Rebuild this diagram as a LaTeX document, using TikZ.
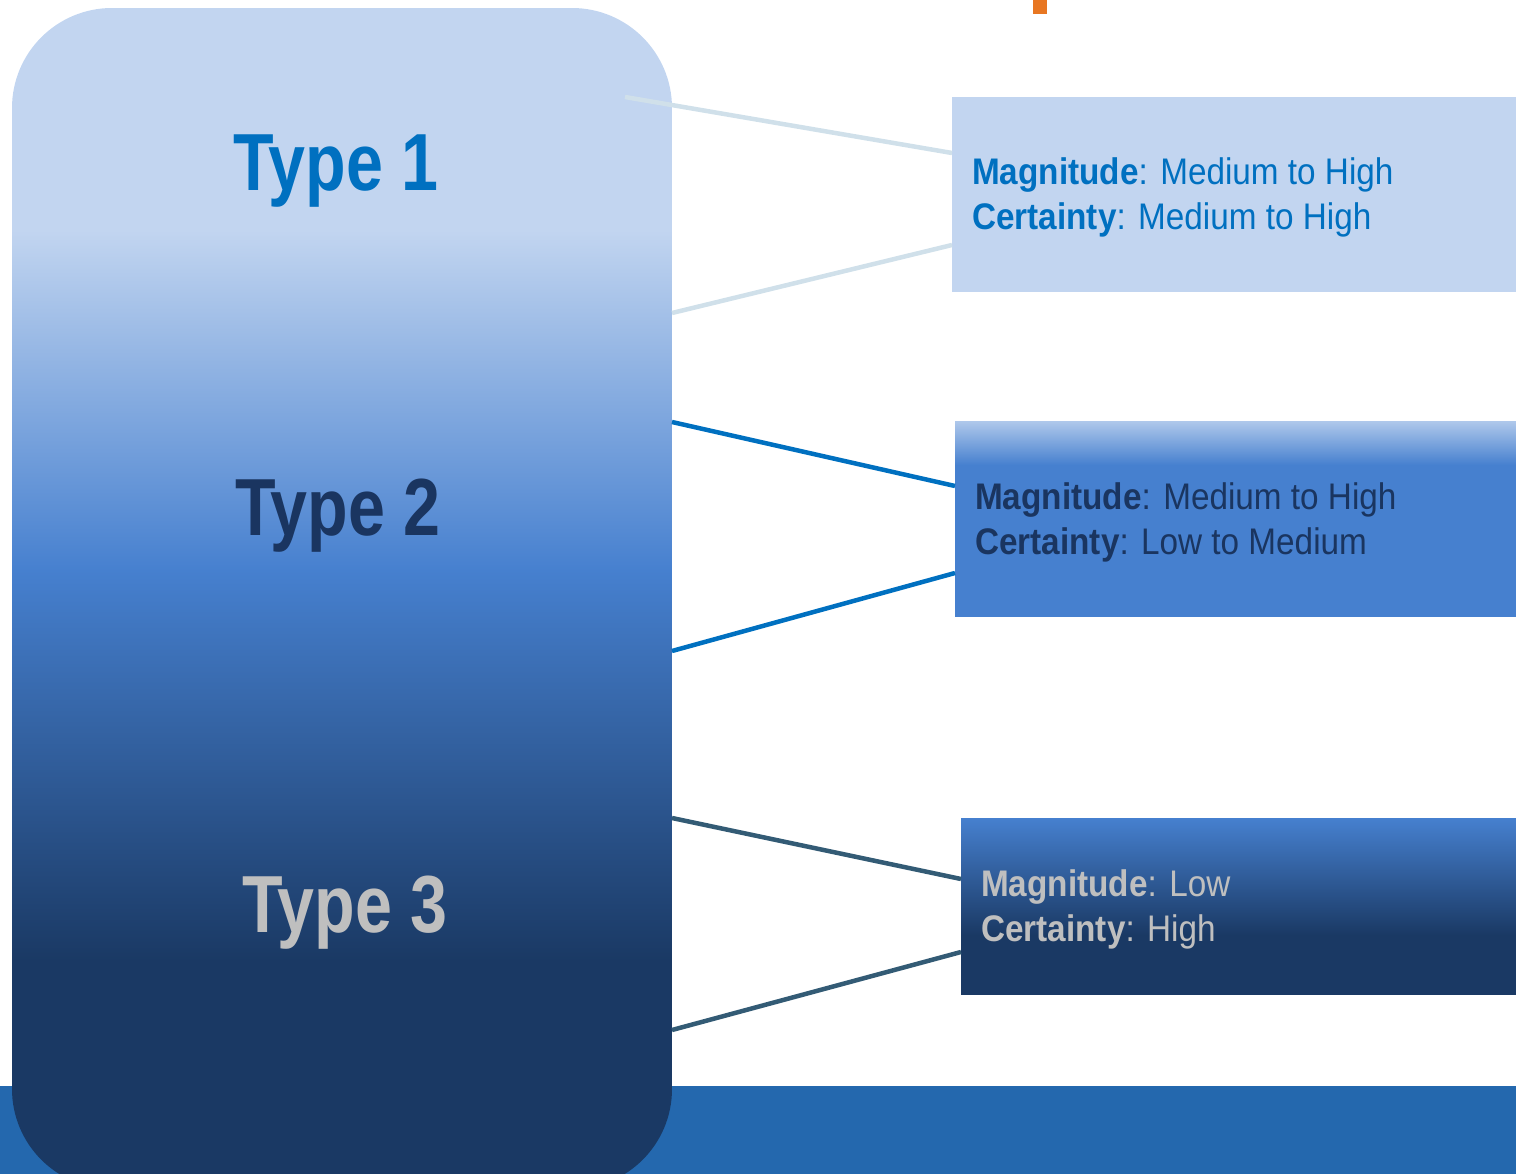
\documentclass[tikz,border=0pt]{standalone}
\usepackage{fontspec}
\setmainfont[FakeStretch=0.82]{Liberation Sans}
\newfontfamily\infofont[FakeStretch=0.9]{Liberation Sans}
\definecolor{paleblue}{HTML}{C2D5F0}
\definecolor{midblue}{HTML}{4680CF}
\definecolor{navy}{HTML}{1A3964}
\definecolor{bandblue}{HTML}{2468AE}
\definecolor{tabor}{HTML}{E87722}
\definecolor{linepale}{HTML}{D0E0EA}
\definecolor{linemid}{HTML}{0070C0}
\definecolor{linedark}{HTML}{335B75}
\definecolor{txtblue}{HTML}{0070C0}
\definecolor{txtnavy}{HTML}{1A3560}
\definecolor{txtgrey}{HTML}{BFBFBF}
\begin{document}
\begin{tikzpicture}[x=1pt,y=-1pt,
  typelabel/.style={font=\fontsize{81}{90}\selectfont\bfseries, inner sep=0pt},
  infobox/.style={rectangle, inner sep=0pt, anchor=north west},
  infotext/.style={anchor=west, align=left, inner sep=0pt, xshift=20pt, yshift=-3pt,
    font=\infofont\fontsize{37}{45}\selectfont},
  link/.style={line width=4.5pt}]
\useasboundingbox (0,0) rectangle (1516,1174);
\clip (0,0) rectangle (1516,1174);

% footer band and small orange tab
\fill[bandblue] (0,1086) rectangle (1516,1174);
\fill[tabor] (1033,0) rectangle (1047,14);

% tall rounded column with vertical colour ramp
\begin{scope}
  \clip[rounded corners=100pt] (12,8) rectangle (672,1189);
  \fill[paleblue] (12,8) rectangle (672,231);
  \shade[top color=paleblue, bottom color=midblue] (12,230) rectangle (672,571);
  \shade[top color=midblue, bottom color=navy] (12,570) rectangle (672,961);
  \fill[navy] (12,960) rectangle (672,1189);
\end{scope}

\node[typelabel, text=txtblue] (type1) at (336,171) {Type 1};
\node[typelabel, text=txtnavy] (type2) at (338,516) {Type 2};
\node[typelabel, text=txtgrey] (type3) at (345,913) {Type 3};

% attachment points on the column
\coordinate (c1a) at (625,97);
\coordinate (c1b) at (672,313);
\coordinate (c2a) at (672,422);
\coordinate (c2b) at (672,651);
\coordinate (c3a) at (672,818);
\coordinate (c3b) at (672,1030);

% description boxes
\node[infobox, fill=paleblue, minimum width=564pt, minimum height=195pt] (box1) at (952,97) {};
\node[infobox, fill=midblue, minimum width=561pt, minimum height=196pt] (box2) at (955,421) {};
\node[infobox, fill=navy, minimum width=555pt, minimum height=177pt] (box3) at (961,818) {};
\shade[top color=paleblue!85!midblue, bottom color=midblue]
  (box2.north west) rectangle ([yshift=-44pt]box2.north east);
\shade[top color=midblue, bottom color=navy]
  (box3.north west) rectangle ([yshift=-117pt]box3.north east);

% connectors
\draw[link, linepale] (c1a) -- ([yshift=-56pt]box1.north west);
\draw[link, linepale] (c1b) -- ([yshift=-148pt]box1.north west);
\draw[link, linemid] (c2a) -- ([yshift=-65pt]box2.north west);
\draw[link, linemid] (c2b) -- ([yshift=-152pt]box2.north west);
\draw[link, linedark] (c3a) -- ([yshift=-61pt]box3.north west);
\draw[link, linedark] (c3b) -- ([yshift=-134pt]box3.north west);

\node[infotext, text=txtblue] (info1) at (box1.west)
  {\textbf{Magnitude}: Medium to High\\\textbf{Certainty}: Medium to High};
\node[infotext, text=txtnavy] (info2) at (box2.west)
  {\textbf{Magnitude}: Medium to High\\\textbf{Certainty}: Low to Medium};
\node[infotext, text=txtgrey] (info3) at (box3.west)
  {\textbf{Magnitude}: Low\\\textbf{Certainty}: High};
\end{tikzpicture}
\end{document}
